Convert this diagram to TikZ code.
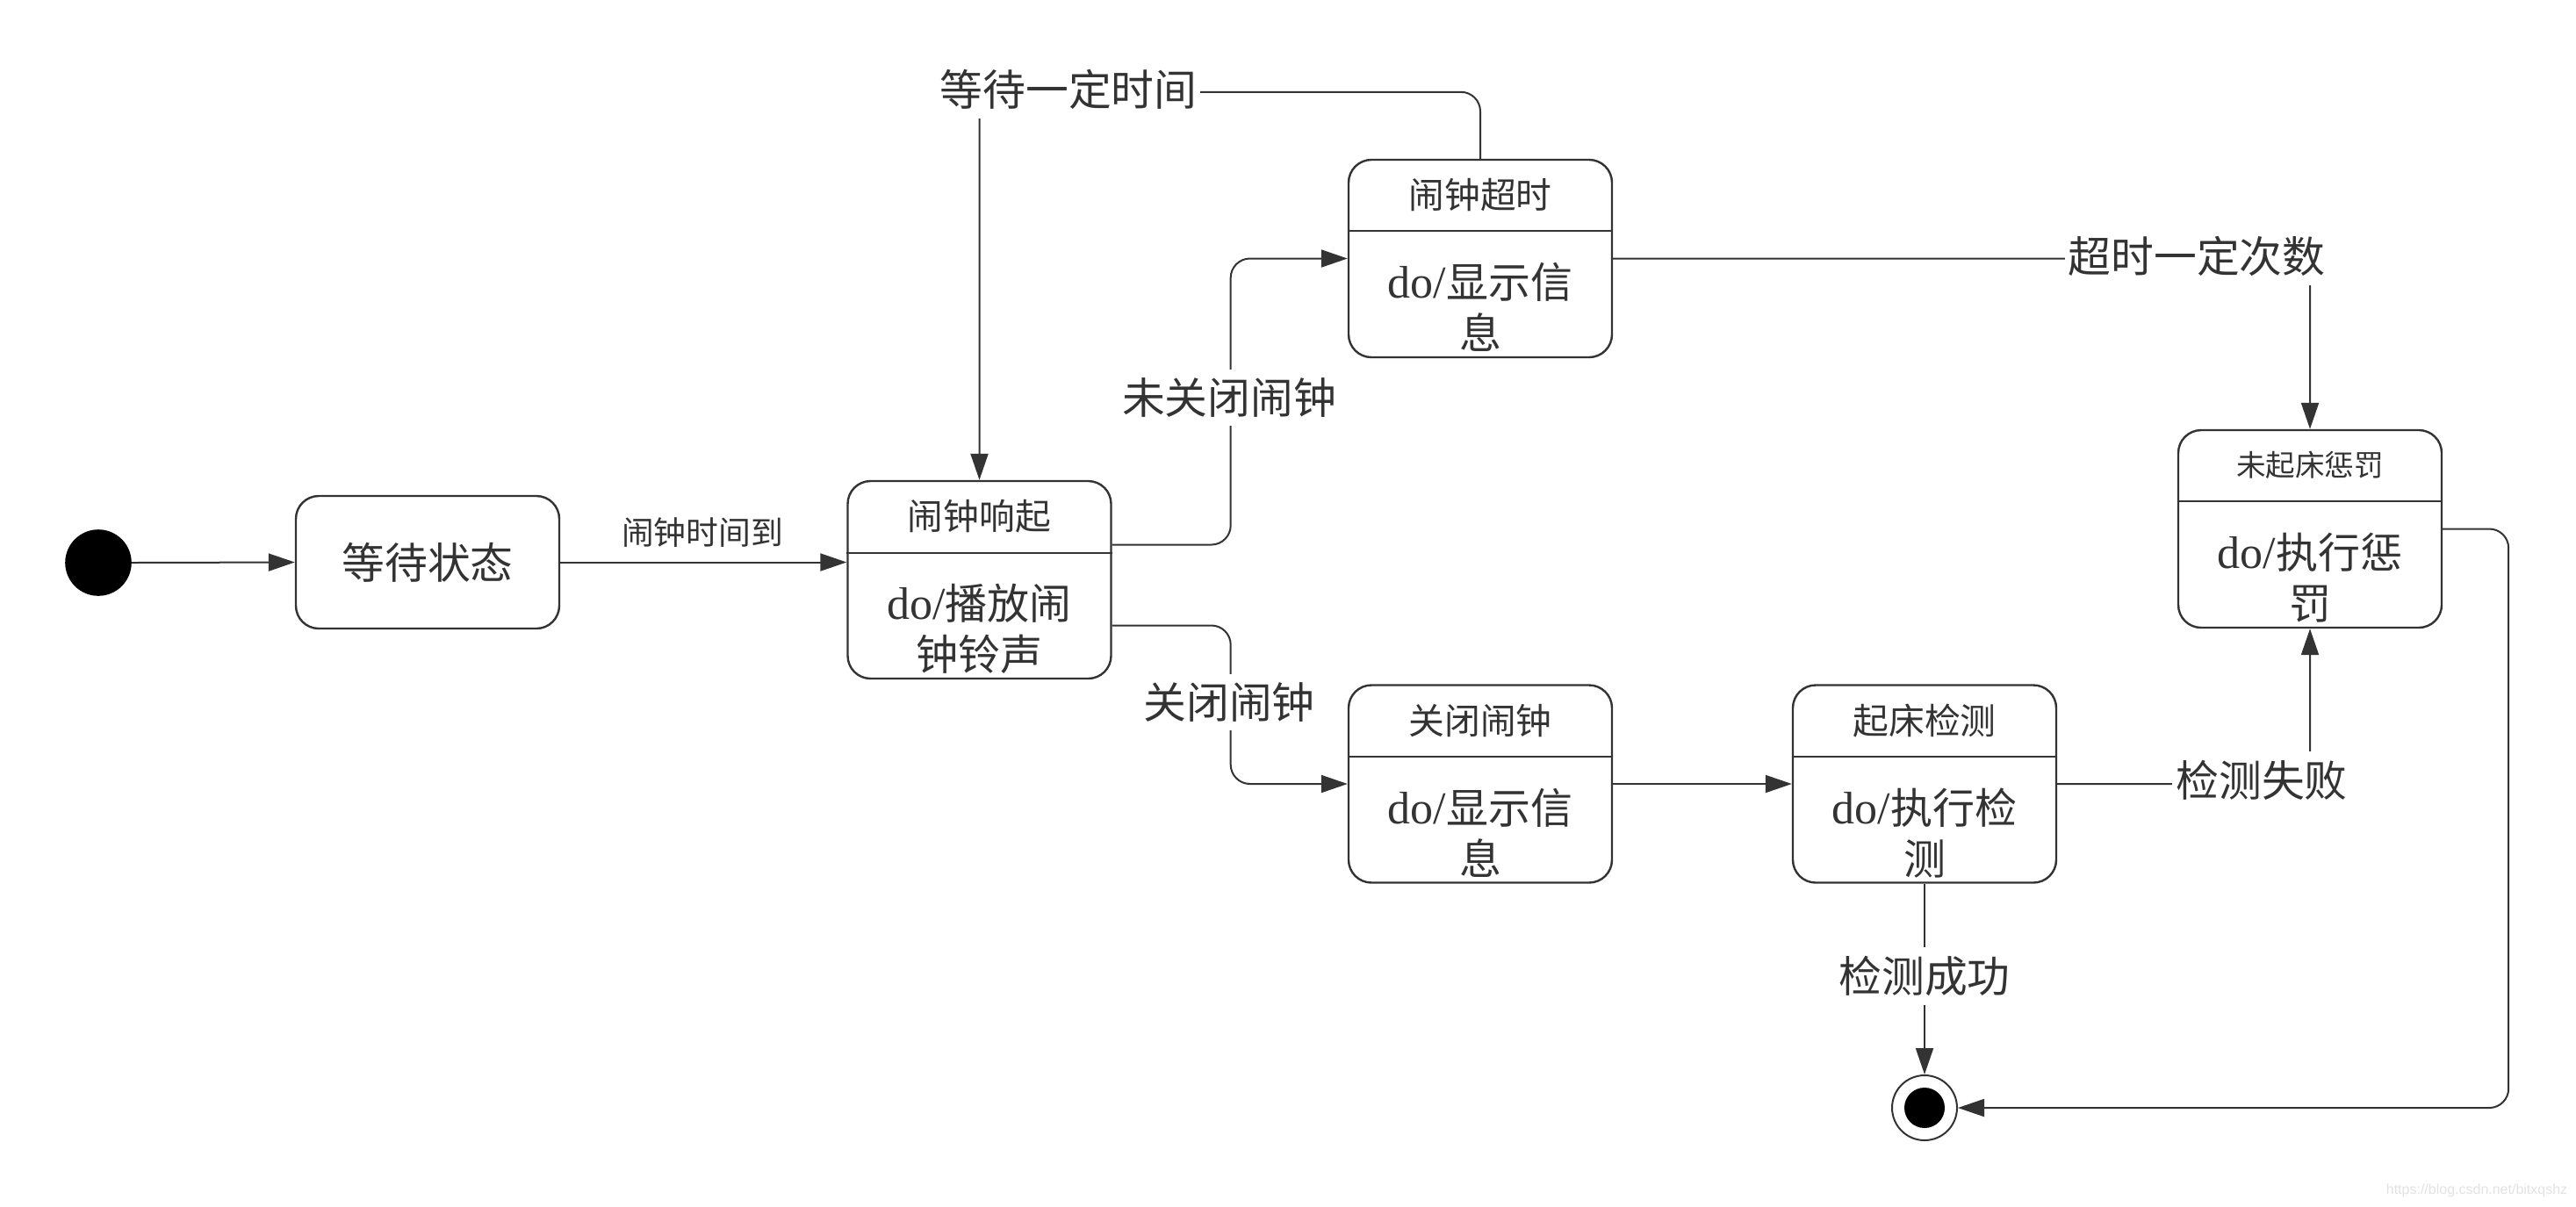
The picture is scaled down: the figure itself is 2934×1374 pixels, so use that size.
\documentclass[tikz,border=0pt]{standalone}
\usepackage{fontspec}
\setmainfont{Noto Sans CJK SC}
\newfontfamily\ser{Liberation Serif}
\newfontfamily\urlf{Liberation Sans}
\usetikzlibrary{arrows.meta,calc}
\definecolor{ink}{HTML}{333333}
\definecolor{wm}{HTML}{E2E2E2}
\newcommand{\doprefix}{{\ser\fontsize{13pt}{14.5pt}\selectfont do/}}
\begin{document}
\begin{tikzpicture}[x=0.25pt,y=-0.25pt,
  conn/.style={draw=ink,line width=0.5pt,rounded corners=5.5pt},
  arr/.style={-{Triangle[length=7.5pt,width=5pt]}},
  sbox/.style={draw=ink,line width=0.6pt,rounded corners=6.5pt,minimum width=75pt,minimum height=56.25pt,inner sep=0pt},
  hdr/.style={text=ink,font=\fontsize{10.2pt}{12pt}\selectfont,inner sep=0pt},
  bdy/.style={text=ink,font=\fontsize{12pt}{14.5pt}\selectfont,align=center,inner sep=0pt},
  lbl/.style={text=ink,fill=white,font=\fontsize{12.2pt}{14pt}\selectfont,inner xsep=1pt,inner ysep=2.5pt},
  divl/.style={draw=ink,line width=0.45pt}
]
\useasboundingbox (0,0) rectangle (2934,1374);

% initial and final states
\node[circle,fill=black,draw=black,minimum size=18.5pt,inner sep=0pt] (init) at (112,641) {};
\node[circle,draw=ink,line width=0.5pt,minimum size=18.5pt,inner sep=0pt] (fin) at (2192,1262) {};
\fill[black] (fin.center) circle (5.75pt);

% simple state
\node[draw=ink,line width=0.6pt,rounded corners=6.5pt,minimum width=75pt,minimum height=37.75pt,inner sep=0pt,
      text=ink,font=\fontsize{12.2pt}{14pt}\selectfont] (wait) at (487,640.5) {等待状态};

% composite states
\node[sbox] (ring) at (1115.5,660.5) {};
\draw[divl] ($(ring.north west)+(0,83)$) -- ($(ring.north east)+(0,83)$);
\node[hdr] (ringh) at ($(ring.north)+(0,41.5)$) {闹钟响起};
\node[bdy] (ringb) at ($(ring.north)+(0,170)$) {\doprefix 播放闹\\钟铃声};

\node[sbox] (timeout) at (1686,294.5) {};
\draw[divl] ($(timeout.north west)+(0,82)$) -- ($(timeout.north east)+(0,82)$);
\node[hdr] (timeouth) at ($(timeout.north)+(0,41)$) {闹钟超时};
\node[bdy] (timeoutb) at ($(timeout.north)+(0,169)$) {\doprefix 显示信\\息};

\node[sbox] (close) at (1686,893) {};
\draw[divl] ($(close.north west)+(0,83)$) -- ($(close.north east)+(0,83)$);
\node[hdr] (closeh) at ($(close.north)+(0,41.5)$) {关闭闹钟};
\node[bdy] (closeb) at ($(close.north)+(0,170)$) {\doprefix 显示信\\息};

\node[sbox] (detect) at (2192,893) {};
\draw[divl] ($(detect.north west)+(0,83)$) -- ($(detect.north east)+(0,83)$);
\node[hdr] (detecth) at ($(detect.north)+(0,41.5)$) {起床检测};
\node[bdy] (detectb) at ($(detect.north)+(0,170)$) {\doprefix 执行检\\测};

\node[sbox] (punish) at (2631,602.5) {};
\draw[divl] ($(punish.north west)+(0,82)$) -- ($(punish.north east)+(0,82)$);
\node[hdr,font=\fontsize{8.4pt}{10pt}\selectfont] (punishh) at ($(punish.north)+(0,41)$) {未起床惩罚};
\node[bdy] (punishb) at ($(punish.north)+(0,169)$) {\doprefix 执行惩\\罚};

% transitions
\draw[conn,arr] (init.east) -- (wait.west);
\draw[conn,arr] (wait.east) -- (wait.east -| ring.west);
\node[text=ink,font=\fontsize{9.2pt}{11pt}\selectfont,inner sep=0pt] (l1) at (800,607) {闹钟时间到};

\draw[conn,arr] ($(ring.east)+(0,-40)$) -- ++(135,0) |- (timeout.west);
\node[lbl] (l2) at (1400,453) {未关闭闹钟};

\draw[conn,arr] ($(ring.east)+(0,52)$) -- ++(135,0) |- (close.west);
\node[lbl] (l3) at (1400,800) {关闭闹钟};

\draw[conn,arr] (timeout.north) -- ++(0,-76) -| (ring.north);
\node[lbl] (l4) at (1217,102) {等待一定时间};

\draw[conn,arr] (timeout.east) -| (punish.north);
\node[lbl] (l5) at (2502,292) {超时一定次数};

\draw[conn,arr] (close.east) -- (detect.west);

\draw[conn,arr] (detect.east) -| (punish.south);
\node[lbl] (l6) at (2576,889) {检测失败};

\draw[conn,arr] (detect.south) -- (fin.north);
\node[lbl] (l7) at (2192,1112) {检测成功};

\draw[conn,arr] (punish.east) -- ++(75,0) |- (fin.east);

% watermark
\node[text=wm,font=\urlf\fontsize{4pt}{5pt}\selectfont,anchor=east,inner sep=0pt] (wmk) at (2925,1356) {https://blog.csdn.net/bitxqshz};
\end{tikzpicture}
\end{document}
